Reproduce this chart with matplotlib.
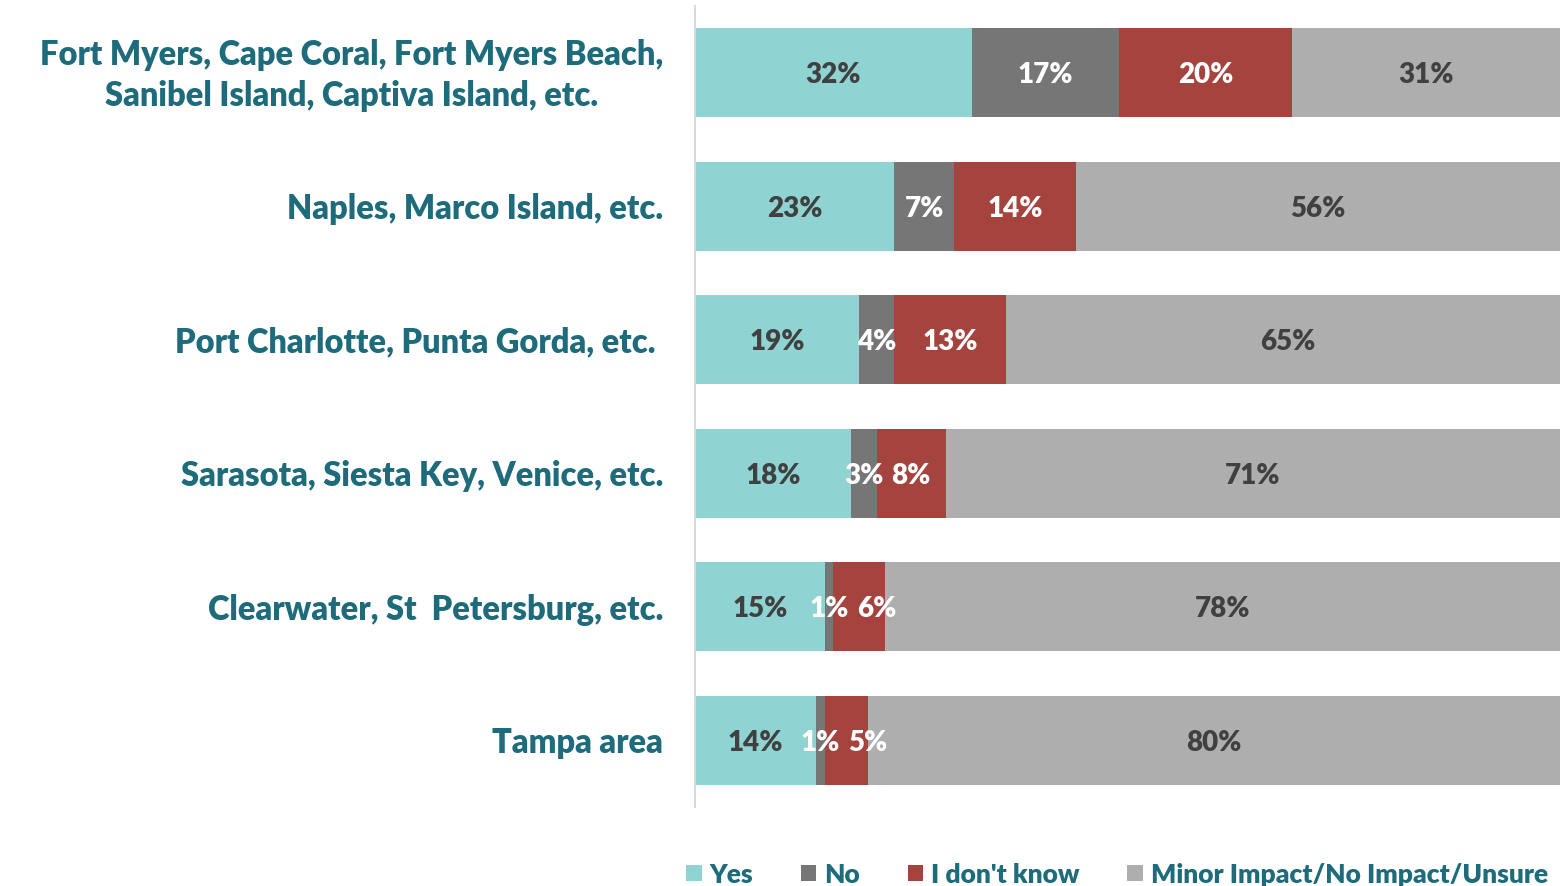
import matplotlib
matplotlib.use("Agg")
from matplotlib import pyplot as plt
from matplotlib.transforms import Affine2D
import numpy as np

plt.rcParams['font.family'] = ['Lato', 'DejaVu Sans']

# datos
regiones = ['Fort Myers, Cape Coral, Fort Myers Beach,\nSanibel Island, Captiva Island, etc.',
            'Naples, Marco Island, etc.',
            'Port Charlotte, Punta Gorda, etc. ',
            'Sarasota, Siesta Key, Venice, etc.',
            'Clearwater, St  Petersburg, etc.',
            'Tampa area']
yes = [32, 23, 19, 18, 15, 14]
no = [17, 7, 4, 3, 1, 1]
dont_know = [20, 14, 13, 8, 6, 5]
minor = [31, 56, 65, 71, 78, 80]

series = ['Yes', 'No', "I don't know", 'Minor Impact/No Impact/Unsure']
colores = ['#8FD3D2', '#767676', '#A5443F', '#AEAEAE']
color_texto = ['#404040', 'white', 'white', '#404040']
teal = '#1D6B7B'

fig = plt.figure(figsize=(15.6, 8.87), dpi=100)
ax = fig.add_axes([0.4455, 0.089, 0.5545, 0.903])

y = np.arange(len(regiones))
left = np.zeros(len(regiones))
etiquetas = [[] for _ in regiones]
for vals, nombre, c, tc in zip([yes, no, dont_know, minor], series, colores, color_texto):
    vals = np.array(vals)
    ax.barh(y, vals, left=left, height=0.665, color=c, label=nombre)
    for i, (yi, l, v) in enumerate(zip(y, left, vals)):
        t = ax.text(l + v / 2, yi + 0.01, f'{v}%', ha='center', va='center',
                    color=tc, fontsize=20, fontweight='heavy')
        etiquetas[i].append(t)
    left += vals

ax.set_xlim(0, 100)
ax.set_ylim(len(regiones) - 0.5, -0.5)
ax.set_yticks(y + 0.015)
ax.set_yticklabels(regiones, color=teal, fontsize=23.5, fontweight='heavy',
                   multialignment='center', linespacing=1.35, va='center')
ax.tick_params(axis='y', length=0, pad=23)
ax.set_xticks([])
for s in ['top', 'right', 'bottom']:
    ax.spines[s].set_visible(False)
ax.spines['left'].set_color('#D9D9D9')
ax.spines['left'].set_linewidth(1.5)

# empujar etiquetas que se pisan (como hace Excel)
fig.canvas.draw()
r = fig.canvas.get_renderer()
for fila in etiquetas:
    for prev, t in zip(fila[:-1], fila[1:]):
        bp = prev.get_window_extent(r)
        bt = t.get_window_extent(r)
        if bt.x0 < bp.x1 + 8:
            dx = bp.x1 + 8 - bt.x0
            t.set_transform(t.get_transform() + Affine2D().translate(dx, 0))

leg = fig.legend(loc='lower center', bbox_to_anchor=(0.716, -0.027), ncol=4,
                 frameon=False, fontsize=19, handlelength=0.6, handleheight=0.6,
                 handletextpad=0.3, columnspacing=1.8)
for t in leg.get_texts():
    t.set_color(teal)
    t.set_fontweight('heavy')

plt.savefig('out.png', dpi=100)
